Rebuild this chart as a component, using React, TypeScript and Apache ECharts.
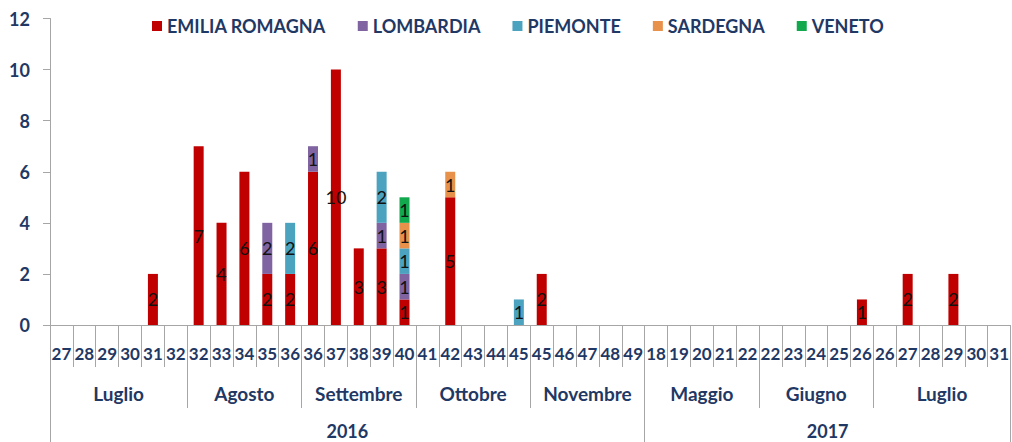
import React, { useEffect, useRef } from 'react';
import * as echarts from 'echarts';

const weeks = [
  '27', '28', '29', '30', '31', '32',
  '32', '33', '34', '35', '36',
  '36', '37', '38', '39', '40',
  '41', '42', '43', '44', '45',
  '45', '46', '47', '48', '49',
  '18', '19', '20', '21', '22',
  '22', '23', '24', '25', '26',
  '26', '27', '28', '29', '30', '31',
];
const months = ['Luglio', 'Agosto', 'Settembre', 'Ottobre', 'Novembre', 'Maggio', 'Giugno', 'Luglio'];
const monthSpans = [6, 5, 5, 5, 5, 5, 5, 6];
const years = ['2016', '2017'];
const yearSpans = [26, 16];

const seriesNames = ['EMILIA ROMAGNA', 'LOMBARDIA', 'PIEMONTE', 'SARDEGNA', 'VENETO'];
const seriesColors = ['#C00000', '#8064A2', '#4BA3BF', '#E8914A', '#12A84E'];

const emiliaRomagna = [0, 0, 0, 0, 2, 0, 7, 4, 6, 2, 2, 6, 10, 3, 3, 1, 0, 5, 0, 0, 0, 2, 0, 0, 0, 0, 0, 0, 0, 0, 0, 0, 0, 0, 0, 1, 0, 2, 0, 2, 0, 0];
const lombardia = [0, 0, 0, 0, 0, 0, 0, 0, 0, 2, 0, 1, 0, 0, 1, 1, 0, 0, 0, 0, 0, 0, 0, 0, 0, 0, 0, 0, 0, 0, 0, 0, 0, 0, 0, 0, 0, 0, 0, 0, 0, 0];
const piemonte = [0, 0, 0, 0, 0, 0, 0, 0, 0, 0, 2, 0, 0, 0, 2, 1, 0, 0, 0, 0, 1, 0, 0, 0, 0, 0, 0, 0, 0, 0, 0, 0, 0, 0, 0, 0, 0, 0, 0, 0, 0, 0];
const sardegna = [0, 0, 0, 0, 0, 0, 0, 0, 0, 0, 0, 0, 0, 0, 0, 1, 0, 1, 0, 0, 0, 0, 0, 0, 0, 0, 0, 0, 0, 0, 0, 0, 0, 0, 0, 0, 0, 0, 0, 0, 0, 0];
const veneto = [0, 0, 0, 0, 0, 0, 0, 0, 0, 0, 0, 0, 0, 0, 0, 1, 0, 0, 0, 0, 0, 0, 0, 0, 0, 0, 0, 0, 0, 0, 0, 0, 0, 0, 0, 0, 0, 0, 0, 0, 0, 0];
const seriesData = [emiliaRomagna, lombardia, piemonte, sardegna, veneto];

const yTicks = [0, 2, 4, 6, 8, 10, 12];

const NAVY = '#1F3864';
const GRAY = '#A6A6A6';
const FONT = 'Lato';

function spansToBounds(spans: number[]) {
  const bounds = [0];
  spans.forEach((s) => bounds.push(bounds[bounds.length - 1] + s));
  return bounds;
}

export default function App() {
  const ref = useRef<HTMLDivElement>(null);
  useEffect(() => {
    document.body.style.margin = '0';
    if (!ref.current) return;
    const chart = echarts.init(ref.current, null, { renderer: 'svg' });

    const monthBounds = spansToBounds(monthSpans);
    const monthCenters = months.map((_, i) => (monthBounds[i] + monthBounds[i + 1]) / 2);
    const yearBounds = spansToBounds(yearSpans);
    const yearCenters = years.map((_, i) => (yearBounds[i] + yearBounds[i + 1]) / 2);
    const total = weeks.length;

    const labelFor = (centers: number[], names: string[]) => (v: number) => {
      const i = centers.findIndex((c) => Math.abs(c - v) < 1e-6);
      return i >= 0 ? names[i] : '';
    };

    const option: any = {
      animation: false,
      textStyle: { fontFamily: FONT },
      legend: {
        top: 12,
        left: 147,
        itemWidth: 10,
        itemHeight: 10,
        itemGap: 32,
        icon: 'rect',
        textStyle: { color: NAVY, fontWeight: 'bold', fontSize: 18, fontFamily: FONT },
        data: seriesNames,
      },
      grid: { left: 50, right: 0, top: 18.5, bottom: 117, containLabel: false },
      xAxis: [
        {
          type: 'category',
          data: weeks,
          position: 'bottom',
          axisLine: { show: true, lineStyle: { color: GRAY } },
          axisTick: { show: true, interval: 0, length: 42, lineStyle: { color: GRAY } },
          axisLabel: {
            interval: 0,
            margin: 28,
            verticalAlign: 'middle',
            color: NAVY,
            fontWeight: 'bold',
            fontSize: 17,
            fontFamily: FONT,
          },
          splitLine: { show: false },
        },
        {
          type: 'value',
          min: 0,
          max: total,
          position: 'bottom',
          axisLine: { show: false },
          axisTick: { show: true, customValues: monthBounds, length: 83, lineStyle: { color: GRAY } },
          axisLabel: {
            customValues: monthCenters,
            formatter: labelFor(monthCenters, months),
            margin: 68,
            verticalAlign: 'middle',
            color: NAVY,
            fontWeight: 'bold',
            fontSize: 19,
            fontFamily: FONT,
          },
          splitLine: { show: false },
        },
        {
          type: 'value',
          min: 0,
          max: total,
          position: 'bottom',
          axisLine: { show: false },
          axisTick: { show: true, customValues: yearBounds, length: 130, lineStyle: { color: GRAY } },
          axisLabel: {
            customValues: yearCenters,
            formatter: labelFor(yearCenters, years),
            margin: 106,
            verticalAlign: 'middle',
            color: NAVY,
            fontWeight: 'bold',
            fontSize: 18,
            fontFamily: FONT,
          },
          splitLine: { show: false },
        },
      ],
      yAxis: {
        type: 'value',
        min: yTicks[0],
        max: yTicks[yTicks.length - 1],
        interval: 2,
        axisLine: { show: true, lineStyle: { color: GRAY } },
        axisTick: { show: true, length: 7, lineStyle: { color: GRAY } },
        axisLabel: { margin: 20, color: NAVY, fontWeight: 'bold', fontSize: 18, fontFamily: FONT },
        splitLine: { show: false },
      },
      series: seriesNames.map((name, si) => ({
        name,
        type: 'bar',
        stack: 'total',
        xAxisIndex: 0,
        barWidth: 10,
        itemStyle: { color: seriesColors[si] },
        data: seriesData[si].map((v) => (v === 0 ? null : v)),
        label: {
          show: true,
          position: 'inside',
          color: '#111',
          fontSize: 18,
          fontFamily: FONT,
          formatter: (p: any) => (p.value ? String(p.value) : ''),
        },
      })),
    };

    chart.setOption(option);
    return () => chart.dispose();
  }, []);

  return <div ref={ref} style={{ width: 1012, height: 442 }} />;
}
